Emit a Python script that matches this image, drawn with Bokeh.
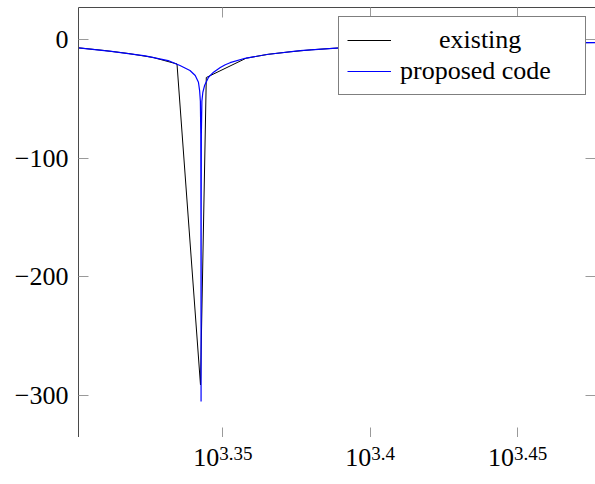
from bokeh.plotting import figure
from bokeh.layouts import column
from bokeh.models import (FixedTicker, LogAxis, LinearAxis, Legend, LegendItem,
                          CustomJSTickFormatter, Range1d, ColumnDataSource)
from bokeh.core.properties import value
from bokeh.embed import file_html
from bokeh.resources import INLINE

# ---- data ----
freq_existing = [2000, 2040, 2080, 2120, 2160, 2200, 2210, 2280, 2320, 2360, 2400, 2440,
                 2480, 2520, 2560, 2600, 2640, 2680, 2720, 2760, 2800, 2840, 2880, 2920,
                 2960, 3000]
val_existing = [-7.0, -9.2, -11.8, -15.1, -20.6, -291.0, -32.0, -15.7, -12.4, -10.3, -8.6,
                -7.4, -6.4, -5.7, -5.1, -4.6, -4.3, -3.9, -3.6, -3.4, -3.2, -3.05, -2.9,
                -2.75, -2.6, -2.5]

freq_proposed = [2000, 2052, 2107, 2145, 2165, 2182, 2191, 2196.5, 2198.5, 2199.8, 2200.5,
                 2200.8, 2201.0, 2201.2, 2201.5, 2202.4, 2204, 2207, 2213.9, 2222.6, 2234.3,
                 2243, 2251.5, 2278, 2317, 2378, 2453.6, 2520, 2600, 2680, 2760, 2840, 2920,
                 3000]
val_proposed = [-7.0, -9.9, -13.7, -17.7, -21.9, -26.1, -30.3, -36.0, -43.0, -52.0, -80.0,
                -150.0, -305.0, -150.0, -80.0, -52.0, -44.6, -38.8, -31.8, -27.5, -23.6,
                -21.2, -19.5, -15.8, -12.6, -9.3, -7.0, -5.7, -4.6, -3.9, -3.4, -3.05, -2.75,
                -2.5]

y_ticks = [0, -100, -200, -300]
x_tick_exponents = [3.35, 3.4, 3.45]
x_tick_exponent_labels = ["3.35", "3.4", "3.45"]
series_labels = ["existing", "proposed code"]

FONT = "Liberation Serif"
MAIN_SIZE = 26
SUP_SIZE = 19
TICK_COLOR = "#9a9a9a"
FRAME_COLOR = "#4a4a4a"

x_tick_values = [10 ** e for e in x_tick_exponents]
x_range = Range1d(2000, 2995.4)

p = figure(width=595, height=437, x_axis_type="log",
           x_range=x_range, y_range=Range1d(-335.3, 27),
           output_backend="svg", toolbar_location=None,
           min_border_left=78, min_border_right=0, min_border_top=7,
           min_border_bottom=0)
p.grid.visible = False
p.outline_line_color = None
p.background_fill_color = "white"
p.border_fill_color = "white"

r_ex = p.line(freq_existing, val_existing, line_color="#000000", line_width=1)
r_pr = p.line(freq_proposed, val_proposed, line_color="#0000ff", line_width=1.2)


def style_axis(ax, show_line=True):
    ax.axis_line_color = FRAME_COLOR if show_line else None
    ax.axis_line_width = 1
    ax.major_tick_in = 10
    ax.major_tick_out = 0
    ax.major_tick_line_color = TICK_COLOR
    ax.minor_tick_line_color = None


xa = p.xaxis[0]
xa.ticker = FixedTicker(ticks=x_tick_values, minor_ticks=[])
xa.formatter = CustomJSTickFormatter(code="return ''")
xa.major_label_text_font_size = "0px"
xa.major_label_standoff = 0
style_axis(xa)

ya = p.yaxis[0]
ya.ticker = FixedTicker(ticks=y_ticks, minor_ticks=[])
ya.formatter = CustomJSTickFormatter(
    code="return tick < 0 ? '\u2212' + Math.abs(tick) : String(tick)")
ya.major_label_standoff = 10
ya.major_label_text_font = FONT
ya.major_label_text_font_size = f"{MAIN_SIZE}px"
ya.major_label_text_color = "black"
style_axis(ya)

top = LogAxis(ticker=FixedTicker(ticks=x_tick_values, minor_ticks=[]),
              formatter=CustomJSTickFormatter(code="return ''"),
              major_label_text_font_size="0px", major_label_standoff=0)
style_axis(top)
p.add_layout(top, "above")
right = LinearAxis(ticker=FixedTicker(ticks=y_ticks, minor_ticks=[]),
                   formatter=CustomJSTickFormatter(code="return ''"),
                   major_label_text_font_size="0px", major_label_standoff=0)
style_axis(right, show_line=False)
p.add_layout(right, "right")

# legend texts are centred in their cells in the reference: pad the shorter one
EN = "\u2002"
legend = Legend(items=[LegendItem(label=EN * 3 + series_labels[0], renderers=[r_ex]),
                       LegendItem(label=series_labels[1], renderers=[r_pr])],
                location="top_right", margin=9, padding=8, spacing=1,
                glyph_width=44, glyph_height=30, label_height=30, label_width=177,
                label_standoff=9, label_text_font=FONT, label_text_color="black",
                label_text_font_size=f"{MAIN_SIZE}px", border_line_color="black",
                border_line_width=1, background_fill_color="white",
                background_fill_alpha=1)
p.add_layout(legend)

# ---- strip below the frame carrying the 10^exponent tick labels ----
q = figure(width=595, height=45, x_axis_type="log", x_range=x_range,
           y_range=Range1d(0, 45), output_backend="svg", toolbar_location=None,
           min_border_left=78, min_border_right=0, min_border_top=0,
           min_border_bottom=0)
q.axis.visible = False
q.grid.visible = False
q.outline_line_color = None
q.background_fill_color = "white"
q.border_fill_color = "white"

main_w = 2 * 0.5 * MAIN_SIZE
offsets = []
for s in x_tick_exponent_labels:
    sup_w = sum(0.25 if ch == "." else 0.5 for ch in s) * SUP_SIZE
    offsets.append(main_w - (main_w + sup_w) / 2)

n = len(x_tick_values)
src = ColumnDataSource(dict(x=x_tick_values, base=["10"] * n,
                            sup=x_tick_exponent_labels, off=offsets,
                            y_base=[33.6] * n, y_sup=[35.6] * n))
q.text(x="x", y="y_base", text="base", x_offset="off", source=src,
       text_align="right", text_baseline="top", text_font=value(FONT),
       text_font_size=f"{MAIN_SIZE}px", text_color="black")
q.text(x="x", y="y_sup", text="sup", x_offset="off", source=src,
       text_align="left", text_baseline="top", text_font=value(FONT),
       text_font_size=f"{SUP_SIZE}px", text_color="black")

layout = column(p, q, spacing=0)
open("out.html", "w").write(file_html(layout, INLINE))
